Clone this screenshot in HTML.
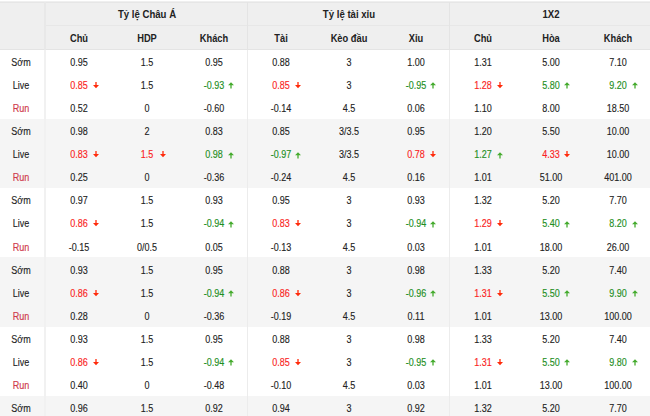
<!DOCTYPE html>
<html><head><meta charset="utf-8"><style>
*{margin:0;padding:0;box-sizing:border-box}
html,body{width:650px;height:416px;overflow:hidden;background:#fff}
body{position:relative;font-family:"Liberation Sans",sans-serif;font-size:10px;color:#222}
.a{position:absolute}
.t{position:absolute;white-space:nowrap;text-align:center;width:120px;margin-left:-60px;line-height:23px;height:23px}
.h{font-weight:bold;color:#222}
.r{color:#fa1e24}
.g{color:#1f8f1f}
.run{color:#cf3a4c}
.ar{position:absolute;width:6px;height:7px;overflow:visible}
.b{transform:scaleX(0.9);-webkit-text-stroke:0.12px currentColor}
.r,.g,.run{-webkit-text-stroke:0.15px currentColor}
</style></head><body>
<div class="a" style="left:0;top:1px;width:650px;height:49px;background:#efefef"></div>
<div class="a" style="left:0;top:2px;width:650px;height:1px;background:#e6e6e6"></div>
<div class="a" style="left:45px;top:25px;width:605px;height:1px;background:#e7e7e7"></div>
<div class="a" style="left:0;top:49px;width:650px;height:1px;background:#e4e4e4"></div>
<div class="a" style="left:0;top:119px;width:650px;height:69px;background:#f5f5f5"></div>
<div class="a" style="left:0;top:257px;width:650px;height:70px;background:#f5f5f5"></div>
<div class="a" style="left:0;top:396px;width:650px;height:20px;background:#f5f5f5"></div>
<div class="a" style="left:44px;top:2px;width:2px;height:48px;background:#e8e8e8"></div>
<div class="a" style="left:44px;top:50px;width:2px;height:366px;background:#f1f1f1"></div>
<div class="a" style="left:247px;top:2px;width:1px;height:48px;background:#e4e4e4"></div>
<div class="a" style="left:247px;top:50px;width:1px;height:366px;background:#ececec"></div>
<div class="a" style="left:449px;top:2px;width:1px;height:48px;background:#e4e4e4"></div>
<div class="a" style="left:449px;top:50px;width:1px;height:366px;background:#ececec"></div>
<div class="t h" style="left:146.5px;top:3px;transform:scaleX(0.96)">Tỷ lệ Châu Á</div>
<div class="t h" style="left:348.5px;top:3px;transform:scaleX(0.96)">Tỷ lệ tài xỉu</div>
<div class="t h" style="left:550.5px;top:3px;transform:scaleX(0.96)">1X2</div>
<div class="t h" style="left:79.16666666666666px;top:27px;transform:scaleX(0.93)">Chủ</div>
<div class="t h" style="left:146.5px;top:27px;transform:scaleX(0.93)">HDP</div>
<div class="t h" style="left:213.83333333333331px;top:27px;transform:scaleX(0.93)">Khách</div>
<div class="t h" style="left:281.1666666666667px;top:27px;transform:scaleX(0.93)">Tài</div>
<div class="t h" style="left:348.5px;top:27px;transform:scaleX(0.93)">Kèo đầu</div>
<div class="t h" style="left:415.8333333333333px;top:27px;transform:scaleX(0.93)">Xỉu</div>
<div class="t h" style="left:483.1666666666667px;top:27px;transform:scaleX(0.93)">Chủ</div>
<div class="t h" style="left:550.5px;top:27px;transform:scaleX(0.93)">Hòa</div>
<div class="t h" style="left:617.8333333333333px;top:27px;transform:scaleX(0.93)">Khách</div>
<div class="t b " style="left:21px;top:51px">Sớm</div>
<div class="t b" style="left:79.16666666666666px;top:51px">0.95</div>
<div class="t b" style="left:146.5px;top:51px">1.5</div>
<div class="t b" style="left:213.83333333333331px;top:51px">0.95</div>
<div class="t b" style="left:281.1666666666667px;top:51px">0.88</div>
<div class="t b" style="left:348.5px;top:51px">3</div>
<div class="t b" style="left:415.8333333333333px;top:51px">1.00</div>
<div class="t b" style="left:483.1666666666667px;top:51px">1.31</div>
<div class="t b" style="left:550.5px;top:51px">5.00</div>
<div class="t b" style="left:617.8333333333333px;top:51px">7.10</div>
<div class="t b " style="left:21px;top:74.07px">Live</div>
<div class="t b r" style="left:79.16666666666666px;top:74.07px">0.85</div>
<svg class="ar" viewBox="0 0 6 7" style="left:92.9px;top:82.07px"><path d="M2.35 0H3.65V3.1H6L3 6.3L0 3.1H2.35Z" fill="#ff2a0a"/></svg>
<div class="t b" style="left:146.5px;top:74.07px">1.5</div>
<div class="t b g" style="left:213.83333333333331px;top:74.07px">-0.93</div>
<svg class="ar" viewBox="0 0 6 7" style="left:227.5px;top:82.37px"><path d="M2.35 6.5H3.65V3.2H6L3 0.2L0 3.2H2.35Z" fill="#45ab2e"/></svg>
<div class="t b r" style="left:281.1666666666667px;top:74.07px">0.85</div>
<svg class="ar" viewBox="0 0 6 7" style="left:294.9px;top:82.07px"><path d="M2.35 0H3.65V3.1H6L3 6.3L0 3.1H2.35Z" fill="#ff2a0a"/></svg>
<div class="t b" style="left:348.5px;top:74.07px">3</div>
<div class="t b g" style="left:415.8333333333333px;top:74.07px">-0.95</div>
<svg class="ar" viewBox="0 0 6 7" style="left:429.5px;top:82.37px"><path d="M2.35 6.5H3.65V3.2H6L3 0.2L0 3.2H2.35Z" fill="#45ab2e"/></svg>
<div class="t b r" style="left:483.1666666666667px;top:74.07px">1.28</div>
<svg class="ar" viewBox="0 0 6 7" style="left:496.9px;top:82.07px"><path d="M2.35 0H3.65V3.1H6L3 6.3L0 3.1H2.35Z" fill="#ff2a0a"/></svg>
<div class="t b g" style="left:550.5px;top:74.07px">5.80</div>
<svg class="ar" viewBox="0 0 6 7" style="left:564.2px;top:82.37px"><path d="M2.35 6.5H3.65V3.2H6L3 0.2L0 3.2H2.35Z" fill="#45ab2e"/></svg>
<div class="t b g" style="left:617.8333333333333px;top:74.07px">9.20</div>
<svg class="ar" viewBox="0 0 6 7" style="left:631.5px;top:82.37px"><path d="M2.35 6.5H3.65V3.2H6L3 0.2L0 3.2H2.35Z" fill="#45ab2e"/></svg>
<div class="t b run" style="left:21px;top:97.13px">Run</div>
<div class="t b" style="left:79.16666666666666px;top:97.13px">0.52</div>
<div class="t b" style="left:146.5px;top:97.13px">0</div>
<div class="t b" style="left:213.83333333333331px;top:97.13px">-0.60</div>
<div class="t b" style="left:281.1666666666667px;top:97.13px">-0.14</div>
<div class="t b" style="left:348.5px;top:97.13px">4.5</div>
<div class="t b" style="left:415.8333333333333px;top:97.13px">0.06</div>
<div class="t b" style="left:483.1666666666667px;top:97.13px">1.10</div>
<div class="t b" style="left:550.5px;top:97.13px">8.00</div>
<div class="t b" style="left:617.8333333333333px;top:97.13px">18.50</div>
<div class="t b " style="left:21px;top:120.2px">Sớm</div>
<div class="t b" style="left:79.16666666666666px;top:120.2px">0.98</div>
<div class="t b" style="left:146.5px;top:120.2px">2</div>
<div class="t b" style="left:213.83333333333331px;top:120.2px">0.83</div>
<div class="t b" style="left:281.1666666666667px;top:120.2px">0.85</div>
<div class="t b" style="left:348.5px;top:120.2px">3/3.5</div>
<div class="t b" style="left:415.8333333333333px;top:120.2px">0.95</div>
<div class="t b" style="left:483.1666666666667px;top:120.2px">1.20</div>
<div class="t b" style="left:550.5px;top:120.2px">5.50</div>
<div class="t b" style="left:617.8333333333333px;top:120.2px">10.00</div>
<div class="t b " style="left:21px;top:143.27px">Live</div>
<div class="t b r" style="left:79.16666666666666px;top:143.27px">0.83</div>
<svg class="ar" viewBox="0 0 6 7" style="left:92.9px;top:151.27px"><path d="M2.35 0H3.65V3.1H6L3 6.3L0 3.1H2.35Z" fill="#ff2a0a"/></svg>
<div class="t b r" style="left:146.5px;top:143.27px">1.5</div>
<svg class="ar" viewBox="0 0 6 7" style="left:160.2px;top:151.27px"><path d="M2.35 0H3.65V3.1H6L3 6.3L0 3.1H2.35Z" fill="#ff2a0a"/></svg>
<div class="t b g" style="left:213.83333333333331px;top:143.27px">0.98</div>
<svg class="ar" viewBox="0 0 6 7" style="left:227.5px;top:151.57px"><path d="M2.35 6.5H3.65V3.2H6L3 0.2L0 3.2H2.35Z" fill="#45ab2e"/></svg>
<div class="t b g" style="left:281.1666666666667px;top:143.27px">-0.97</div>
<svg class="ar" viewBox="0 0 6 7" style="left:294.9px;top:151.57px"><path d="M2.35 6.5H3.65V3.2H6L3 0.2L0 3.2H2.35Z" fill="#45ab2e"/></svg>
<div class="t b" style="left:348.5px;top:143.27px">3/3.5</div>
<div class="t b r" style="left:415.8333333333333px;top:143.27px">0.78</div>
<svg class="ar" viewBox="0 0 6 7" style="left:429.5px;top:151.27px"><path d="M2.35 0H3.65V3.1H6L3 6.3L0 3.1H2.35Z" fill="#ff2a0a"/></svg>
<div class="t b g" style="left:483.1666666666667px;top:143.27px">1.27</div>
<svg class="ar" viewBox="0 0 6 7" style="left:496.9px;top:151.57px"><path d="M2.35 6.5H3.65V3.2H6L3 0.2L0 3.2H2.35Z" fill="#45ab2e"/></svg>
<div class="t b r" style="left:550.5px;top:143.27px">4.33</div>
<svg class="ar" viewBox="0 0 6 7" style="left:564.2px;top:151.27px"><path d="M2.35 0H3.65V3.1H6L3 6.3L0 3.1H2.35Z" fill="#ff2a0a"/></svg>
<div class="t b" style="left:617.8333333333333px;top:143.27px">10.00</div>
<div class="t b run" style="left:21px;top:166.33px">Run</div>
<div class="t b" style="left:79.16666666666666px;top:166.33px">0.25</div>
<div class="t b" style="left:146.5px;top:166.33px">0</div>
<div class="t b" style="left:213.83333333333331px;top:166.33px">-0.36</div>
<div class="t b" style="left:281.1666666666667px;top:166.33px">-0.24</div>
<div class="t b" style="left:348.5px;top:166.33px">4.5</div>
<div class="t b" style="left:415.8333333333333px;top:166.33px">0.16</div>
<div class="t b" style="left:483.1666666666667px;top:166.33px">1.01</div>
<div class="t b" style="left:550.5px;top:166.33px">51.00</div>
<div class="t b" style="left:617.8333333333333px;top:166.33px">401.00</div>
<div class="t b " style="left:21px;top:189.4px">Sớm</div>
<div class="t b" style="left:79.16666666666666px;top:189.4px">0.97</div>
<div class="t b" style="left:146.5px;top:189.4px">1.5</div>
<div class="t b" style="left:213.83333333333331px;top:189.4px">0.93</div>
<div class="t b" style="left:281.1666666666667px;top:189.4px">0.95</div>
<div class="t b" style="left:348.5px;top:189.4px">3</div>
<div class="t b" style="left:415.8333333333333px;top:189.4px">0.93</div>
<div class="t b" style="left:483.1666666666667px;top:189.4px">1.32</div>
<div class="t b" style="left:550.5px;top:189.4px">5.20</div>
<div class="t b" style="left:617.8333333333333px;top:189.4px">7.70</div>
<div class="t b " style="left:21px;top:212.47px">Live</div>
<div class="t b r" style="left:79.16666666666666px;top:212.47px">0.86</div>
<svg class="ar" viewBox="0 0 6 7" style="left:92.9px;top:220.47px"><path d="M2.35 0H3.65V3.1H6L3 6.3L0 3.1H2.35Z" fill="#ff2a0a"/></svg>
<div class="t b" style="left:146.5px;top:212.47px">1.5</div>
<div class="t b g" style="left:213.83333333333331px;top:212.47px">-0.94</div>
<svg class="ar" viewBox="0 0 6 7" style="left:227.5px;top:220.77px"><path d="M2.35 6.5H3.65V3.2H6L3 0.2L0 3.2H2.35Z" fill="#45ab2e"/></svg>
<div class="t b r" style="left:281.1666666666667px;top:212.47px">0.83</div>
<svg class="ar" viewBox="0 0 6 7" style="left:294.9px;top:220.47px"><path d="M2.35 0H3.65V3.1H6L3 6.3L0 3.1H2.35Z" fill="#ff2a0a"/></svg>
<div class="t b" style="left:348.5px;top:212.47px">3</div>
<div class="t b g" style="left:415.8333333333333px;top:212.47px">-0.94</div>
<svg class="ar" viewBox="0 0 6 7" style="left:429.5px;top:220.77px"><path d="M2.35 6.5H3.65V3.2H6L3 0.2L0 3.2H2.35Z" fill="#45ab2e"/></svg>
<div class="t b r" style="left:483.1666666666667px;top:212.47px">1.29</div>
<svg class="ar" viewBox="0 0 6 7" style="left:496.9px;top:220.47px"><path d="M2.35 0H3.65V3.1H6L3 6.3L0 3.1H2.35Z" fill="#ff2a0a"/></svg>
<div class="t b g" style="left:550.5px;top:212.47px">5.40</div>
<svg class="ar" viewBox="0 0 6 7" style="left:564.2px;top:220.77px"><path d="M2.35 6.5H3.65V3.2H6L3 0.2L0 3.2H2.35Z" fill="#45ab2e"/></svg>
<div class="t b g" style="left:617.8333333333333px;top:212.47px">8.20</div>
<svg class="ar" viewBox="0 0 6 7" style="left:631.5px;top:220.77px"><path d="M2.35 6.5H3.65V3.2H6L3 0.2L0 3.2H2.35Z" fill="#45ab2e"/></svg>
<div class="t b run" style="left:21px;top:235.53px">Run</div>
<div class="t b" style="left:79.16666666666666px;top:235.53px">-0.15</div>
<div class="t b" style="left:146.5px;top:235.53px">0/0.5</div>
<div class="t b" style="left:213.83333333333331px;top:235.53px">0.05</div>
<div class="t b" style="left:281.1666666666667px;top:235.53px">-0.13</div>
<div class="t b" style="left:348.5px;top:235.53px">4.5</div>
<div class="t b" style="left:415.8333333333333px;top:235.53px">0.03</div>
<div class="t b" style="left:483.1666666666667px;top:235.53px">1.01</div>
<div class="t b" style="left:550.5px;top:235.53px">18.00</div>
<div class="t b" style="left:617.8333333333333px;top:235.53px">26.00</div>
<div class="t b " style="left:21px;top:258.6px">Sớm</div>
<div class="t b" style="left:79.16666666666666px;top:258.6px">0.93</div>
<div class="t b" style="left:146.5px;top:258.6px">1.5</div>
<div class="t b" style="left:213.83333333333331px;top:258.6px">0.95</div>
<div class="t b" style="left:281.1666666666667px;top:258.6px">0.88</div>
<div class="t b" style="left:348.5px;top:258.6px">3</div>
<div class="t b" style="left:415.8333333333333px;top:258.6px">0.98</div>
<div class="t b" style="left:483.1666666666667px;top:258.6px">1.33</div>
<div class="t b" style="left:550.5px;top:258.6px">5.20</div>
<div class="t b" style="left:617.8333333333333px;top:258.6px">7.40</div>
<div class="t b " style="left:21px;top:281.67px">Live</div>
<div class="t b r" style="left:79.16666666666666px;top:281.67px">0.86</div>
<svg class="ar" viewBox="0 0 6 7" style="left:92.9px;top:289.67px"><path d="M2.35 0H3.65V3.1H6L3 6.3L0 3.1H2.35Z" fill="#ff2a0a"/></svg>
<div class="t b" style="left:146.5px;top:281.67px">1.5</div>
<div class="t b g" style="left:213.83333333333331px;top:281.67px">-0.94</div>
<svg class="ar" viewBox="0 0 6 7" style="left:227.5px;top:289.97px"><path d="M2.35 6.5H3.65V3.2H6L3 0.2L0 3.2H2.35Z" fill="#45ab2e"/></svg>
<div class="t b r" style="left:281.1666666666667px;top:281.67px">0.86</div>
<svg class="ar" viewBox="0 0 6 7" style="left:294.9px;top:289.67px"><path d="M2.35 0H3.65V3.1H6L3 6.3L0 3.1H2.35Z" fill="#ff2a0a"/></svg>
<div class="t b" style="left:348.5px;top:281.67px">3</div>
<div class="t b g" style="left:415.8333333333333px;top:281.67px">-0.96</div>
<svg class="ar" viewBox="0 0 6 7" style="left:429.5px;top:289.97px"><path d="M2.35 6.5H3.65V3.2H6L3 0.2L0 3.2H2.35Z" fill="#45ab2e"/></svg>
<div class="t b r" style="left:483.1666666666667px;top:281.67px">1.31</div>
<svg class="ar" viewBox="0 0 6 7" style="left:496.9px;top:289.67px"><path d="M2.35 0H3.65V3.1H6L3 6.3L0 3.1H2.35Z" fill="#ff2a0a"/></svg>
<div class="t b g" style="left:550.5px;top:281.67px">5.50</div>
<svg class="ar" viewBox="0 0 6 7" style="left:564.2px;top:289.97px"><path d="M2.35 6.5H3.65V3.2H6L3 0.2L0 3.2H2.35Z" fill="#45ab2e"/></svg>
<div class="t b g" style="left:617.8333333333333px;top:281.67px">9.90</div>
<svg class="ar" viewBox="0 0 6 7" style="left:631.5px;top:289.97px"><path d="M2.35 6.5H3.65V3.2H6L3 0.2L0 3.2H2.35Z" fill="#45ab2e"/></svg>
<div class="t b run" style="left:21px;top:304.73px">Run</div>
<div class="t b" style="left:79.16666666666666px;top:304.73px">0.28</div>
<div class="t b" style="left:146.5px;top:304.73px">0</div>
<div class="t b" style="left:213.83333333333331px;top:304.73px">-0.36</div>
<div class="t b" style="left:281.1666666666667px;top:304.73px">-0.19</div>
<div class="t b" style="left:348.5px;top:304.73px">4.5</div>
<div class="t b" style="left:415.8333333333333px;top:304.73px">0.11</div>
<div class="t b" style="left:483.1666666666667px;top:304.73px">1.01</div>
<div class="t b" style="left:550.5px;top:304.73px">13.00</div>
<div class="t b" style="left:617.8333333333333px;top:304.73px">100.00</div>
<div class="t b " style="left:21px;top:327.8px">Sớm</div>
<div class="t b" style="left:79.16666666666666px;top:327.8px">0.93</div>
<div class="t b" style="left:146.5px;top:327.8px">1.5</div>
<div class="t b" style="left:213.83333333333331px;top:327.8px">0.95</div>
<div class="t b" style="left:281.1666666666667px;top:327.8px">0.88</div>
<div class="t b" style="left:348.5px;top:327.8px">3</div>
<div class="t b" style="left:415.8333333333333px;top:327.8px">0.98</div>
<div class="t b" style="left:483.1666666666667px;top:327.8px">1.33</div>
<div class="t b" style="left:550.5px;top:327.8px">5.20</div>
<div class="t b" style="left:617.8333333333333px;top:327.8px">7.40</div>
<div class="t b " style="left:21px;top:350.87px">Live</div>
<div class="t b r" style="left:79.16666666666666px;top:350.87px">0.86</div>
<svg class="ar" viewBox="0 0 6 7" style="left:92.9px;top:358.87px"><path d="M2.35 0H3.65V3.1H6L3 6.3L0 3.1H2.35Z" fill="#ff2a0a"/></svg>
<div class="t b" style="left:146.5px;top:350.87px">1.5</div>
<div class="t b g" style="left:213.83333333333331px;top:350.87px">-0.94</div>
<svg class="ar" viewBox="0 0 6 7" style="left:227.5px;top:359.17px"><path d="M2.35 6.5H3.65V3.2H6L3 0.2L0 3.2H2.35Z" fill="#45ab2e"/></svg>
<div class="t b r" style="left:281.1666666666667px;top:350.87px">0.85</div>
<svg class="ar" viewBox="0 0 6 7" style="left:294.9px;top:358.87px"><path d="M2.35 0H3.65V3.1H6L3 6.3L0 3.1H2.35Z" fill="#ff2a0a"/></svg>
<div class="t b" style="left:348.5px;top:350.87px">3</div>
<div class="t b g" style="left:415.8333333333333px;top:350.87px">-0.95</div>
<svg class="ar" viewBox="0 0 6 7" style="left:429.5px;top:359.17px"><path d="M2.35 6.5H3.65V3.2H6L3 0.2L0 3.2H2.35Z" fill="#45ab2e"/></svg>
<div class="t b r" style="left:483.1666666666667px;top:350.87px">1.31</div>
<svg class="ar" viewBox="0 0 6 7" style="left:496.9px;top:358.87px"><path d="M2.35 0H3.65V3.1H6L3 6.3L0 3.1H2.35Z" fill="#ff2a0a"/></svg>
<div class="t b g" style="left:550.5px;top:350.87px">5.50</div>
<svg class="ar" viewBox="0 0 6 7" style="left:564.2px;top:359.17px"><path d="M2.35 6.5H3.65V3.2H6L3 0.2L0 3.2H2.35Z" fill="#45ab2e"/></svg>
<div class="t b g" style="left:617.8333333333333px;top:350.87px">9.80</div>
<svg class="ar" viewBox="0 0 6 7" style="left:631.5px;top:359.17px"><path d="M2.35 6.5H3.65V3.2H6L3 0.2L0 3.2H2.35Z" fill="#45ab2e"/></svg>
<div class="t b run" style="left:21px;top:373.93px">Run</div>
<div class="t b" style="left:79.16666666666666px;top:373.93px">0.40</div>
<div class="t b" style="left:146.5px;top:373.93px">0</div>
<div class="t b" style="left:213.83333333333331px;top:373.93px">-0.48</div>
<div class="t b" style="left:281.1666666666667px;top:373.93px">-0.10</div>
<div class="t b" style="left:348.5px;top:373.93px">4.5</div>
<div class="t b" style="left:415.8333333333333px;top:373.93px">0.03</div>
<div class="t b" style="left:483.1666666666667px;top:373.93px">1.01</div>
<div class="t b" style="left:550.5px;top:373.93px">13.00</div>
<div class="t b" style="left:617.8333333333333px;top:373.93px">100.00</div>
<div class="t b " style="left:21px;top:397.0px">Sớm</div>
<div class="t b" style="left:79.16666666666666px;top:397.0px">0.96</div>
<div class="t b" style="left:146.5px;top:397.0px">1.5</div>
<div class="t b" style="left:213.83333333333331px;top:397.0px">0.92</div>
<div class="t b" style="left:281.1666666666667px;top:397.0px">0.94</div>
<div class="t b" style="left:348.5px;top:397.0px">3</div>
<div class="t b" style="left:415.8333333333333px;top:397.0px">0.92</div>
<div class="t b" style="left:483.1666666666667px;top:397.0px">1.32</div>
<div class="t b" style="left:550.5px;top:397.0px">5.20</div>
<div class="t b" style="left:617.8333333333333px;top:397.0px">7.70</div>
</body></html>
